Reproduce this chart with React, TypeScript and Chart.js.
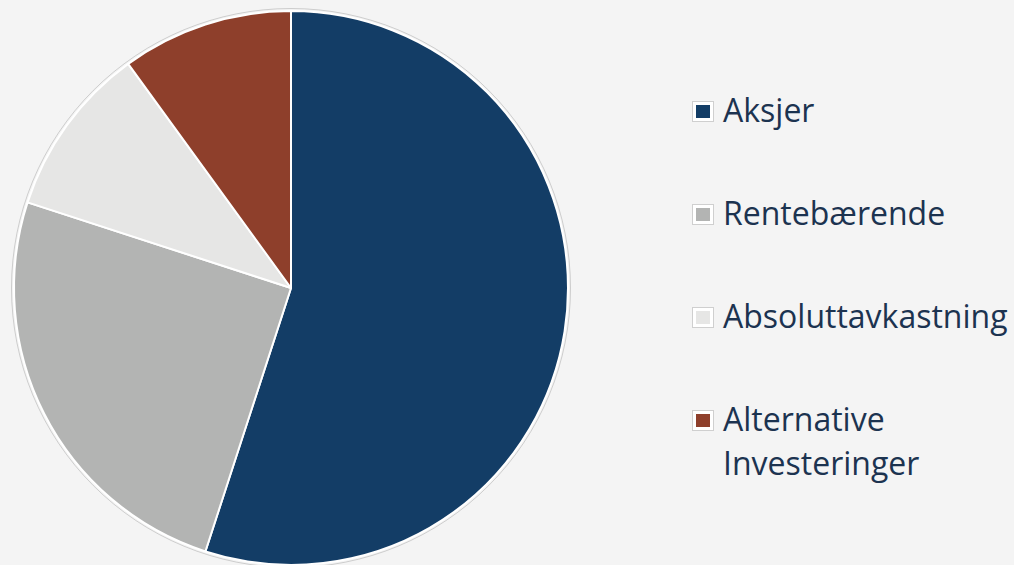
import React, { useEffect, useRef } from "react";
import { Chart, registerables } from "chart.js";

Chart.register(...registerables);

const categories = ["Aksjer", "Rentebærende", "Absoluttavkastning", "Alternative Investeringer"];
const values = [55, 25, 10, 10];
const colors = ["#133d66", "#b3b4b3", "#e6e6e5", "#8e3f2b"];

const ringPlugin = {
  id: "outerRing",
  afterDatasetsDraw(chart: any) {
    const meta = chart.getDatasetMeta(0);
    const arc = meta.data[0];
    if (!arc) return;
    const { x, y, outerRadius } = arc.getProps(["x", "y", "outerRadius"], true);
    const ctx = chart.ctx;
    ctx.save();
    ctx.beginPath();
    ctx.arc(x, y, outerRadius + 2.5, 0, Math.PI * 2);
    ctx.strokeStyle = "rgba(0,0,0,0.16)";
    ctx.lineWidth = 1;
    ctx.stroke();
    ctx.restore();
  },
};

export default function App() {
  const ref = useRef<HTMLCanvasElement>(null);
  useEffect(() => {
    if (!ref.current) return;
    const chart = new Chart(ref.current, {
      type: "pie",
      data: {
        labels: categories,
        datasets: [
          {
            data: values,
            backgroundColor: colors,
            borderColor: "#ffffff",
            borderWidth: 2,
            hoverOffset: 0,
          },
        ],
      },
      options: {
        animation: false,
        responsive: false,
        radius: 277,
        layout: { padding: 0 },
        plugins: {
          legend: { display: false },
          tooltip: { enabled: false },
        },
      },
      plugins: [ringPlugin],
    });
    return () => chart.destroy();
  }, []);

  const fontSize = 32;
  const lineH = 44;
  return (
    <div
      style={{
        position: "fixed",
        inset: 0,
        background: "#f4f4f4",
        overflow: "hidden",
        fontFamily: "'Open Sans', sans-serif",
      }}
    >
      <canvas
        ref={ref}
        width={580}
        height={580}
        style={{ position: "absolute", left: 1, top: -2, width: 580, height: 580 }}
      />
      {categories.map((c, i) => (
        <div
          key={c}
          style={{
            position: "absolute",
            left: 692,
            top: 88.3 + i * 103,
            display: "flex",
            alignItems: "flex-start",
          }}
        >
          <div
            style={{
              width: 22,
              height: 21,
              marginTop: 12.5,
              boxSizing: "border-box",
              border: "1px solid #cfcfcf",
              background: "#ffffff",
              padding: 3,
              flex: "none",
            }}
          >
            <div style={{ width: "100%", height: "100%", background: colors[i] }} />
          </div>
          <div
            style={{
              marginLeft: 9,
              fontSize,
              lineHeight: lineH + "px",
              color: "#1c3350",
              maxWidth: 300,
            }}
          >
            {c}
          </div>
        </div>
      ))}
    </div>
  );
}
